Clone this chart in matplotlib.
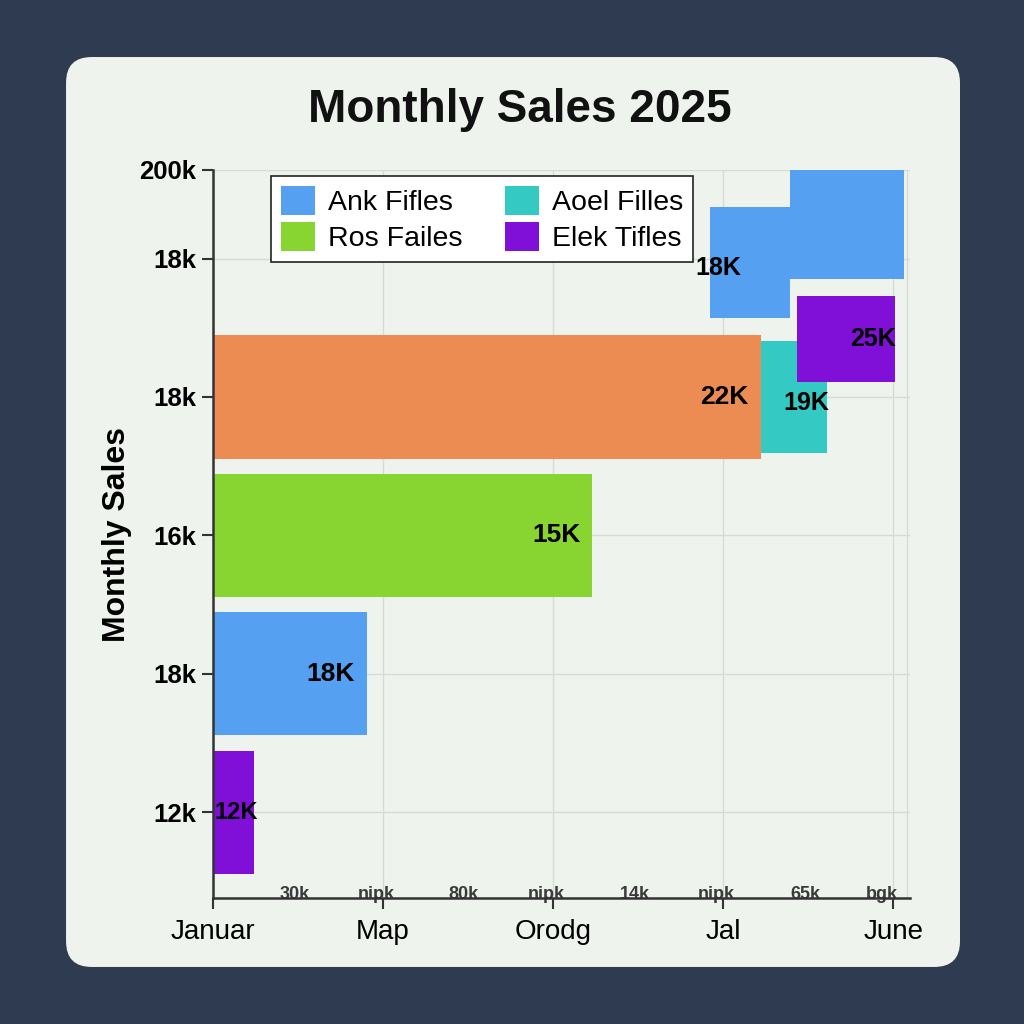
import matplotlib.pyplot as plt
from matplotlib.patches import FancyBboxPatch, Patch

# --- DATA ---
months = ["Januar", "Map", "Orodg", "Jal", "June"]
y_labels = ["12k", "18k", "16k", "18k", "18k", "200k"]
y_label_pos = [0, 1, 2, 3, 4, 4.64]

# main bars (length in month units)
main_rows = [0, 1, 2, 3]
main_width = [0.24, 0.906, 2.23, 3.22]
main_text = ["12K", "18K", "15K", "22K"]
main_colors = ["#8010d8", "#55a0f0", "#88d430", "#ec8c52"]

# floating bars top right
float_row = [3.0, 3.42, 3.97, 4.245]
float_left = [3.22, 3.435, 2.92, 3.39]
float_width = [0.39, 0.576, 0.47, 0.67]
float_height = [0.81, 0.62, 0.80, 0.79]
float_colors = ["#35c9c4", "#8010d8", "#55a0f0", "#55a0f0"]
float_text = ["19K", "25K", "18K", ""]

inner_labels = ["30k", "nipk", "80k", "nipk", "14k", "nipk", "65k", "bgk"]
inner_pos = [0.48, 0.96, 1.47, 1.96, 2.48, 2.96, 3.48, 3.93]

legend_names = ["Ank Fifles", "Ros Failes", "Aoel Filles", "Elek Tifles"]
legend_colors = ["#55a0f0", "#88d430", "#35c9c4", "#8010d8"]

BG = "#2e3b50"
CARD = "#eef3ee"
FONT = "Liberation Sans"

fig = plt.figure(figsize=(10.24, 10.24), dpi=100, facecolor=BG)

# --- CARD ---
card = FancyBboxPatch((0.0645, 0.0557), 0.873, 0.8886,
                      boxstyle="round,pad=0,rounding_size=0.025",
                      transform=fig.transFigure, facecolor=CARD,
                      edgecolor="none", zorder=-5)
fig.patches.append(card)

fig.text(0.508, 0.893, "Monthly Sales 2025", ha="center", va="center",
         fontsize=33, fontweight="bold", family=FONT, color="#111111")

ax = fig.add_axes([0.208, 0.123, 0.681, 0.711])
ax.set_zorder(2)
ax.set_facecolor(CARD)

# --- BARS ---
ax.barh(main_rows, main_width, height=0.89, color=main_colors, zorder=3)
ax.barh(float_row, float_width, left=float_left, height=float_height,
        color=float_colors, zorder=3)

for r, w, t in zip(main_rows, main_width, main_text):
    if w < 0.5:
        ax.text(0.01, r, t, ha="left", va="center", fontsize=17,
                fontweight="bold", family=FONT, zorder=8)
    else:
        ax.text(w - 0.07, r, t, ha="right", va="center", fontsize=19,
                fontweight="bold", family=FONT, zorder=8)

label_x = [3.49, 3.88, 2.97]
label_y = [2.96, 3.42, 3.93]
for x, y, t in zip(label_x, label_y, float_text[:3]):
    ax.text(x, y, t, ha="center", va="center", fontsize=18,
            fontweight="bold", family=FONT, zorder=8)

# --- AXES ---
ax.set_xlim(0, 4.1)
ax.set_ylim(-0.62, 4.64)
ax.set_xticks(range(len(months)))
ax.set_xticklabels(months, fontsize=20, family=FONT)
ax.set_yticks(y_label_pos)
ax.set_yticklabels(y_labels, fontsize=18.5, fontweight="bold", family=FONT)
ax.tick_params(axis="both", length=8, width=1.5, color="#333333")
ax.tick_params(axis="x", pad=7)
ax.tick_params(axis="y", pad=4)
for s in ["top", "right"]:
    ax.spines[s].set_visible(False)
for s in ["left", "bottom"]:
    ax.spines[s].set_color("#333333")
    ax.spines[s].set_linewidth(1.8)
    ax.spines[s].set_zorder(6)
ax.grid(True, color="#d6dbd6", linewidth=1.0, zorder=0)
ax.axvline(4.08, color="#d6dbd6", linewidth=1.0, zorder=0)
ax.set_ylabel("Monthly Sales", fontsize=23, fontweight="bold", family=FONT,
              labelpad=5)

for x, t in zip(inner_pos, inner_labels):
    ax.text(x, -0.655, t, ha="center", va="bottom", fontsize=13,
            fontweight="bold", family=FONT, color="#3a3a3a", zorder=4)

handles = [Patch(facecolor=c, edgecolor="none") for c in legend_colors]
leg = ax.legend(handles, legend_names, ncol=2, loc="upper left",
                bbox_to_anchor=(0.083, 0.992),
                prop={"family": FONT, "size": 20.5}, frameon=True,
                fancybox=False, edgecolor="#222222", framealpha=1,
                handlelength=1.2, handleheight=1.2, handletextpad=0.45,
                columnspacing=1.5, borderpad=0.35, borderaxespad=0,
                labelspacing=0.22)
leg.get_frame().set_linewidth(1.2)
leg.set_zorder(6)

fig.savefig("out.png", dpi=100, facecolor=BG)
